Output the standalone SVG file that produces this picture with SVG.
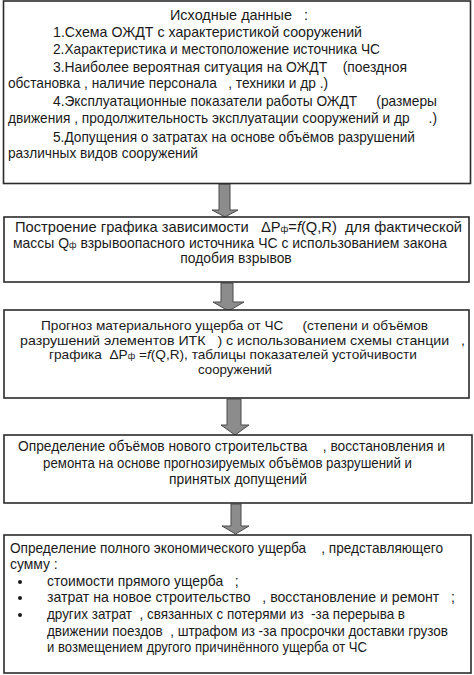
<svg xmlns="http://www.w3.org/2000/svg" width="474" height="675" viewBox="0 0 474 675">
<style>
.box{fill:#fff;stroke:#2b2b2b;stroke-width:1.6}
.arr{fill:#8c8c8c;stroke:#4a4a4a;stroke-width:1}
text{font-family:"Liberation Sans",Arial,sans-serif;font-size:13.9px;fill:#1a1a1a;white-space:pre}
.b1 text{font-size:14.4px}
.b3 text{font-size:12.8px}
.c{text-anchor:middle}
.s{font-size:9px}
.b3 .s{font-size:8.5px}
.i{font-style:italic}
</style>
<rect width="474" height="675" fill="#fff"/>
<g id="connectors">
<polygon class="arr" points="219,184 230,184 230,210 238,210 225,217 212,210 219,210"/>
<polygon class="arr" points="221,283 233,283 233,302 244,302 228.5,311 213,302 221,302"/>
<polygon class="arr" points="227,399 241,399 241,425 249,425 235,435 221,425 227,425"/>
<polygon class="arr" points="231,504 241,504 241,526 249,526 235.5,534 222,526 231,526"/>
</g>
<g id="node1" class="b1">
<rect class="box" x="3.5" y="1" width="467" height="182.5"/>
<text x="170" y="20" textLength="138" lengthAdjust="spacingAndGlyphs">Исходные данные   :</text>
<text x="53" y="37" textLength="309" lengthAdjust="spacingAndGlyphs">1.Схема ОЖДТ с характеристикой сооружений</text>
<text x="53" y="54" textLength="327" lengthAdjust="spacingAndGlyphs">2.Характеристика и местоположение источника ЧС</text>
<text x="53" y="72" textLength="354" lengthAdjust="spacingAndGlyphs">3.Наиболее вероятная ситуация на ОЖДТ    (поездноя</text>
<text x="8" y="88" textLength="320" lengthAdjust="spacingAndGlyphs">обстановка , наличие персонала   , техники и др .)</text>
<text x="53" y="106" textLength="384" lengthAdjust="spacingAndGlyphs">4.Эксплуатационные показатели работы ОЖДТ     (размеры</text>
<text x="8" y="123" textLength="429" lengthAdjust="spacingAndGlyphs">движения , продолжительность эксплуатации сооружений и др     .)</text>
<text x="53" y="142" textLength="362" lengthAdjust="spacingAndGlyphs">5.Допущения о затратах на основе объёмов разрушений</text>
<text x="8" y="158" textLength="190" lengthAdjust="spacingAndGlyphs">различных видов сооружений</text>
</g>
<g id="node2">
<rect class="box" x="4" y="217" width="465" height="65"/>
<text x="15" y="232" textLength="447" lengthAdjust="spacingAndGlyphs">Построение графика зависимости   ΔP<tspan class="s">ф</tspan>=<tspan class="i">f</tspan>(Q,R)  для фактической</text>
<text x="13" y="248" textLength="434" lengthAdjust="spacingAndGlyphs">массы Q<tspan class="s">ф</tspan> взрывоопасного источника ЧС с использованием закона</text>
<text x="236" y="263" class="c">подобия взрывов</text>
</g>
<g id="node3" class="b3">
<rect class="box" x="4" y="310" width="465" height="88"/>
<text x="41" y="330" textLength="387" lengthAdjust="spacingAndGlyphs">Прогноз материального ущерба от ЧС     (степени и объёмов</text>
<text x="20" y="344.5" textLength="445" lengthAdjust="spacingAndGlyphs">разрушений элементов ИТК   ) с использованием схемы станции   ,</text>
<text x="49" y="359" textLength="368" lengthAdjust="spacingAndGlyphs">графика  ΔP<tspan class="s">ф</tspan> =<tspan class="i">f</tspan>(Q,R), таблицы показателей устойчивости</text>
<text x="235" y="373.5" class="c" textLength="74" lengthAdjust="spacingAndGlyphs">сооружений</text>
</g>
<g id="node4">
<rect class="box" x="4" y="435" width="468" height="68"/>
<text x="18" y="451" textLength="427" lengthAdjust="spacingAndGlyphs">Определение объёмов нового строительства    , восстановления и</text>
<text x="43" y="467.5" textLength="369" lengthAdjust="spacingAndGlyphs">ремонта на основе прогнозируемых объёмов разрушений и</text>
<text x="238" y="484" class="c">принятых допущений</text>
</g>
<g id="node5">
<rect class="box" x="4" y="535" width="467" height="138"/>
<text x="10" y="553" textLength="433" lengthAdjust="spacingAndGlyphs">Определение полного экономического ущерба    , представляющего</text>
<text x="10" y="569">сумму :</text>
<circle cx="20" cy="582" r="2" fill="#1a1a1a"/>
<circle cx="20" cy="598" r="2" fill="#1a1a1a"/>
<circle cx="20" cy="615" r="2" fill="#1a1a1a"/>
<text x="47" y="586">стоимости прямого ущерба   ;</text>
<text x="47" y="602" textLength="408" lengthAdjust="spacingAndGlyphs">затрат на новое строительство   , восстановление и ремонт   ;</text>
<text x="47" y="619" textLength="358" lengthAdjust="spacingAndGlyphs">других затрат  , связанных с потерями из  -за перерыва в</text>
<text x="47" y="636" textLength="401" lengthAdjust="spacingAndGlyphs">движении поездов  , штрафом из -за просрочки доставки грузов</text>
<text x="47" y="652" textLength="320" lengthAdjust="spacingAndGlyphs">и возмещением другого причинённого ущерба от ЧС</text>
</g>
</svg>
